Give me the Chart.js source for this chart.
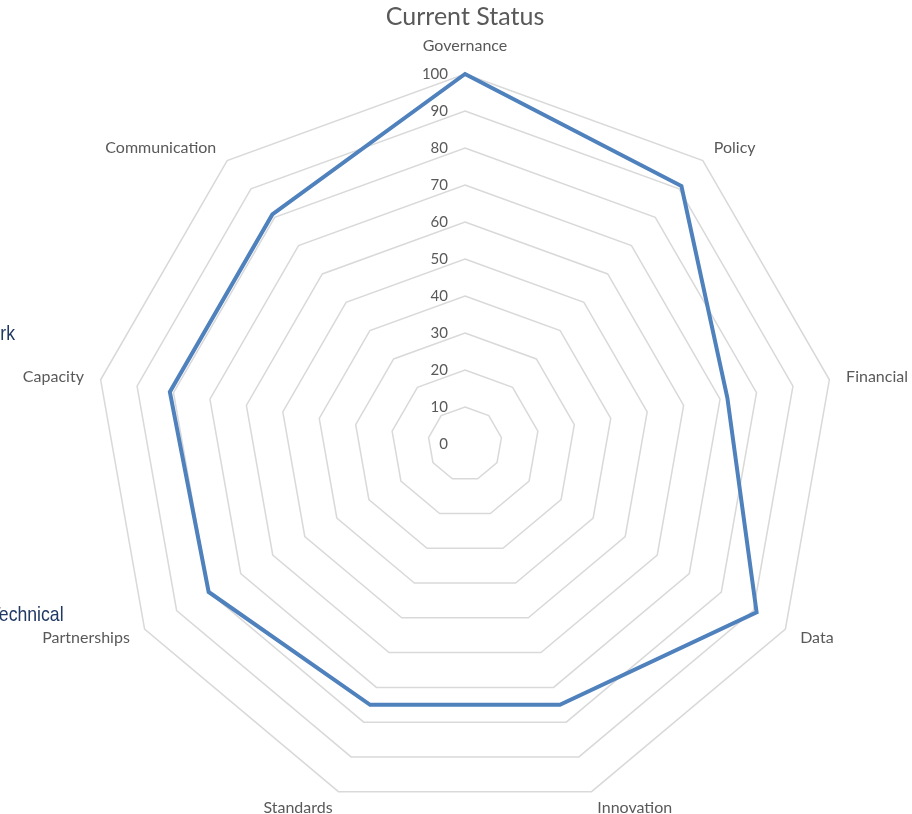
<!DOCTYPE html>
<html>
<head>
<meta charset="utf-8">
<title>Current Status</title>
<script src="https://cdn.jsdelivr.net/npm/chart.js@4.4.1/dist/chart.umd.min.js"></script>
<style>
  body { margin: 0; background: #fff; overflow: hidden; }
  #wrap { position: relative; width: 912px; height: 814px; overflow: hidden; }
  /* canvas is a bit bigger than the window so the radar gets the same radius as the original */
  #myChart { position: absolute; left: -15px; top: 0; }
  .side {
    position: absolute;
    right: 0;
    white-space: nowrap;
    font-family: "Liberation Sans", Arial, sans-serif;
    font-size: 21px;
    line-height: 26px;
    color: #1f3864;
    transform: scaleX(0.84);
    transform-origin: right center;
  }
  .clip { position: absolute; left: -300px; height: 26px; }
</style>
</head>
<body>
<div id="wrap">
  <canvas id="myChart" width="960" height="828"></canvas>
  <div class="clip" style="top:320px; width:315px;"><span class="side">Framework</span></div>
  <div class="clip" style="top:601px; width:364px;"><span class="side">Technical</span></div>
</div>
<script>
var categories = ['Governance', 'Policy', 'Financial', 'Data', 'Innovation',
  'Standards', 'Partnerships', 'Capacity', 'Communication'];
var currentStatus = [100, 91, 72, 91, 75, 75, 80, 81, 81];
var tickValues = [0, 10, 20, 30, 40, 50, 60, 70, 80, 90, 100];

var grey = '#595959';

// tick labels sit left of the vertical axis, like the Excel chart
var tickLabels = {
  id: 'tickLabels',
  afterDraw: function (chart) {
    var scale = chart.scales.r;
    var ctx = chart.ctx;
    ctx.save();
    ctx.font = '15px Lato';
    ctx.fillStyle = grey;
    ctx.textAlign = 'right';
    ctx.textBaseline = 'middle';
    for (var i = 0; i < tickValues.length; i++) {
      var y = scale.yCenter - scale.getDistanceFromCenterForValue(tickValues[i]);
      ctx.fillText(String(tickValues[i]), scale.xCenter - 17, y);
    }
    ctx.restore();
  }
};

var ctx = document.getElementById('myChart');
new Chart(ctx, {
  type: 'radar',
  data: {
    labels: categories,
    datasets: [{
      label: 'Current Status',
      data: currentStatus,
      borderColor: '#4f81bd',
      backgroundColor: 'rgba(0,0,0,0)',
      borderWidth: 4,
      pointRadius: 0,
      pointHoverRadius: 0,
      fill: false,
      tension: 0
    }]
  },
  options: {
    responsive: false,
    animation: false,
    devicePixelRatio: 1,
    layout: { autoPadding: false, padding: 0 },
    plugins: {
      legend: { display: false },
      tooltip: { enabled: false },
      title: {
        display: true,
        text: 'Current Status',
        color: grey,
        font: { family: 'Lato', size: 25, weight: 'normal', lineHeight: '32px' },
        padding: { top: 1, bottom: -1 }
      }
    },
    scales: {
      r: {
        min: 0,
        max: 100,
        ticks: { display: false, stepSize: 10 },
        grid: { color: '#d9d9d9', lineWidth: 1.5 },
        angleLines: { display: false },
        pointLabels: {
          color: grey,
          font: { family: 'Lato', size: 16, lineHeight: 0 },
          padding: function (c) { return c.index === 0 ? 28 : 17; }
        }
      }
    }
  },
  plugins: [tickLabels]
});
</script>
</body>
</html>
